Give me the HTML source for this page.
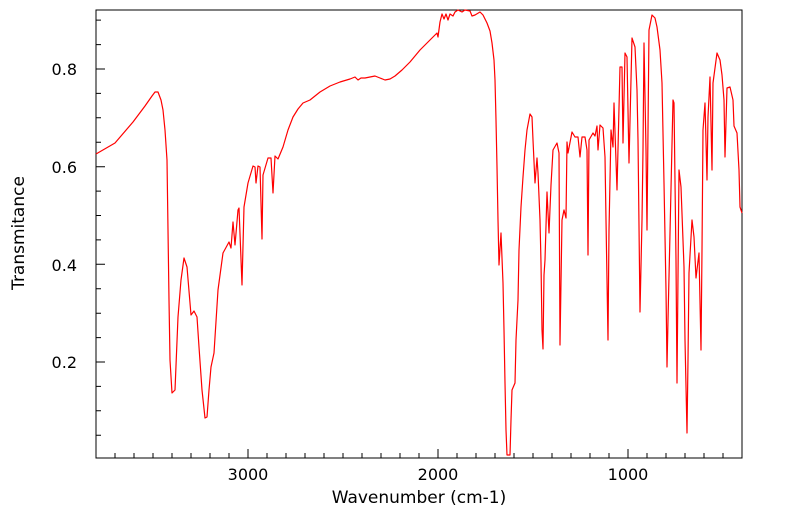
<!DOCTYPE html>
<html><head><meta charset="utf-8"><style>body{margin:0;background:#fff}svg{display:block}text{font-family:"DejaVu Sans","Liberation Sans",sans-serif;fill:#000}</style></head><body>
<svg width="799" height="516" viewBox="0 0 799 516" xmlns="http://www.w3.org/2000/svg">
<rect x="96" y="10" width="646" height="448" fill="none" stroke="#000" stroke-width="1"/>
<path stroke="#000" stroke-width="1" fill="none" d="
M115,458v-5 M134,458v-5 M153,458v-5 M172,458v-5 M191,458v-5 M210,458v-5 M229,458v-5 M248,458v-9 M267,458v-5 M286,458v-5 M305,458v-5 M324,458v-5 M343,458v-5 M362,458v-5 M381,458v-5 M400,458v-5 M419,458v-5 M438,458v-9 M457,458v-5 M476,458v-5 M495,458v-5 M514,458v-5 M533,458v-5 M552,458v-5 M571,458v-5 M590,458v-5 M609,458v-5 M628,458v-9 M647,458v-5 M666,458v-5 M685,458v-5 M704,458v-5 M723,458v-5
M96,435.2h5 M96,410.8h5 M96,386.4h5 M96,362h9 M96,337.6h5 M96,313.2h5 M96,288.7h5 M96,264.3h9 M96,239.9h5 M96,215.5h5 M96,191.1h5 M96,166.7h9 M96,142.2h5 M96,117.8h5 M96,93.4h5 M96,69h9 M96,44.6h5 M96,20.1h5"/>
<g font-size="16">
<text x="77" y="75" text-anchor="end">0.8</text>
<text x="77" y="173" text-anchor="end">0.6</text>
<text x="77" y="271" text-anchor="end">0.4</text>
<text x="77" y="368" text-anchor="end">0.2</text>
<text x="248" y="480" text-anchor="middle">3000</text>
<text x="438" y="480" text-anchor="middle">2000</text>
<text x="628" y="480" text-anchor="middle">1000</text>
<text x="419" y="503" text-anchor="middle" font-size="17">Wavenumber (cm-1)</text>
<text x="24" y="233" text-anchor="middle" font-size="17" transform="rotate(-90 24 233)">Transmitance</text>
</g>
<polyline fill="none" stroke="#ff0000" stroke-width="1.2" stroke-linejoin="round" points="
96,154 115,143 133,122 145,106 152,96 155,92 158,92 161,100 163,110 165,130 167,160 168,230 169,300 170,360 172,393 175,390 178,317 181,280 184,258 187,267 191,315 194,311 197,317 199,347 202,390 205,418 207,417 209,390 211,367 214,353 218,290 223,253 229,242 231,248 233,222 235,245 238,210 239,208 242,285 244,207 248,183 253,166 255,167 256,183 258,166 260,167 262,239 263,175 268,158 271,158 273,193 275,156 278,159 283,147 288,130 293,117 298,109 303,103 310,100 320,92 330,86 340,82 350,79 355,77 358,80 361,78 365,78 375,76 380,78 385,80 390,79 395,76 402,70 410,62 420,50 430,40 437,33 438,37 440,22 442,14 444,19 446,14 448,20 450,14 453,16 455,12 458,10 462,12 465,10 470,11 472,16 475,15 480,12 483,15 487,23 490,31 492,43 494,60 495,80 496,120 497,167 498,220 499,265 501,233 503,283 504,330 505,383 506,430 507,455 510,455 511,420 512,390 515,383 516,340 518,300 519,250 521,207 523,177 525,150 527,130 530,114 532,117 533,140 535,183 537,158 538,173 540,220 541,263 542,330 543,349 544,275 545,260 547,192 549,233 551,185 553,150 557,143 558,148 559,153 560,345 562,220 564,210 566,218 567,142 568,153 572,132 575,137 578,137 580,157 582,137 585,137 587,150 588,255 589,140 593,133 595,136 597,126 598,150 600,125 603,128 605,157 606,220 608,340 609,230 611,130 613,147 614,103 617,190 620,67 622,67 623,143 625,53 627,57 629,163 632,38 635,47 637,90 638,140 640,312 642,220 643,150 644,43 646,150 647,230 649,30 652,15 655,18 657,27 660,50 662,83 664,183 666,290 667,367 668,320 670,233 673,100 674,103 676,260 677,383 679,170 681,187 684,267 685,340 687,433 688,360 689,273 692,220 694,237 696,278 699,253 701,350 702,250 703,130 705,103 707,180 708,117 710,77 712,170 713,83 717,53 720,60 722,75 724,100 725,157 727,88 730,87 733,100 734,126 737,133 739,170 740,207 742,213"/>
</svg>
</body></html>
